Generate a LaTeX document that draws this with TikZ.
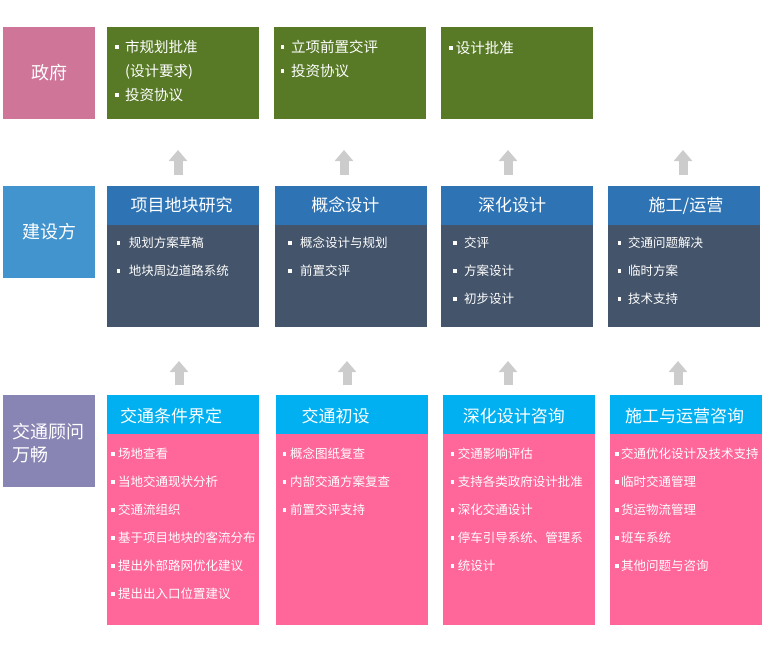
\documentclass[tikz,border=0pt]{standalone}
\usepackage{fontspec}
\setmainfont{Noto Sans CJK SC}
\usetikzlibrary{arrows.meta}
\definecolor{govpink}{HTML}{CF7598}
\definecolor{govgreen}{HTML}{587A26}
\definecolor{ownerblue}{HTML}{4294CE}
\definecolor{headblue}{HTML}{2E74B5}
\definecolor{slate}{HTML}{44546A}
\definecolor{advpurple}{HTML}{8884B4}
\definecolor{headcyan}{HTML}{00B0F0}
\definecolor{bodypink}{HTML}{FF6699}
\definecolor{arrowgrey}{HTML}{CCCCCC}
\newcommand\bul[1][7pt]{\rule[.25em]{3.5pt}{3.5pt}\hspace{#1}}

\begin{document}
\begin{tikzpicture}[x=1pt,y=-1pt,%[scale=.6]
  box/.style={inner sep=0,outer sep=0,minimum width=152pt,anchor=north west},
  side/.style={box,minimum width=92pt,minimum height=92pt,text=white,
    font=\fontsize{18}{23.5}\selectfont,text height=14.4pt,text depth=.9pt},
  head/.style={text=white,inner sep=0,font=\fontsize{17}{20}\selectfont,
    text height=13.6pt,text depth=.85pt},
  item/.style={text=white,inner sep=0,anchor=west,font=\fontsize{12.5}{15}\selectfont,
    text height=10pt,text depth=.6pt},
  gitem/.style={item,font=\fontsize{14.5}{17}\selectfont,text height=11.6pt,text depth=.7pt},
  up/.style={arrowgrey,line width=9pt,-{Triangle[length=11pt,width=18pt]}}]
\useasboundingbox (0,0) rectangle (775,666);

% row 1
\node[side,fill=govpink] (gov) at (3,27) {政府};
\foreach \x [count=\i] in {107,274,441}
  \node[box,fill=govgreen,minimum height=92pt] (g\i) at (\x,27) {};
\node[gitem] (g1-1) at (115,47) {\bul[6.5pt]市规划批准};
\node[gitem] (g1-2) at (125,71) {(设计要求)};
\node[gitem] (g1-3) at (115,95) {\bul[6.5pt]投资协议};
\node[gitem] (g2-1) at (280.7,47) {\bul[6.8pt]立项前置交评};
\node[gitem] (g2-2) at (280.7,71) {\bul[6.8pt]投资协议};
\node[gitem] (g3-1) at (449,48) {\bul[3.2pt]设计批准};

\foreach \x [count=\i] in {178,344,508,683}
 {\coordinate (ua\i) at (\x,175);
  \draw[up] (ua\i) -- ++(0,-25);
 };

% row 2
\node[side,fill=ownerblue] (own) at (3,186) {建设方};
\foreach \x [count=\i] in {107,275,441,608}
 {\node[box,fill=headblue,minimum height=39pt] (mh\i) at (\x,186) {};
  \node[box,fill=slate,minimum height=102pt] (mb\i) at (\x,225) {};
 };
\node[head] (mt1) at (181.5,205) {项目地块研究};
\node[head] (mt2) at (345.3,205) {概念设计};
\node[head] (mt3) at (512,205) {深化设计};
\node[head] (mt4) at (686,205) {施工/运营};
\foreach \txt [count=\j] in {规划方案草稿,地块周边道路系统}
  \node[item] (m1-\j) at (116.7,{243+28*(\j-1)}) {\bul[8.5pt]\txt};
\foreach \txt [count=\j] in {概念设计与规划,前置交评}
  \node[item] (m2-\j) at (288,{243+28*(\j-1)}) {\bul[8.5pt]\txt};
\foreach \txt [count=\j] in {交评,方案设计,初步设计}
  \node[item] (m3-\j) at (453,{243+28*(\j-1)}) {\bul[7.5pt]\txt};
\foreach \txt [count=\j] in {交通问题解决,临时方案,技术支持}
  \node[item] (m4-\j) at (617.7,{243+28*(\j-1)}) {\bul[6.8pt]\txt};

\foreach \x [count=\i] in {179,347,508,678}
 {\coordinate (la\i) at (\x,385);
  \draw[up] (la\i) -- ++(0,-24);
 };

% row 3
\node[side,fill=advpurple] (adv) at (3,395) {};
\node[anchor=west,inner sep=0,text=white,align=left,font=\fontsize{18}{23.5}\selectfont]
  (advt) at (12.3,443) {交通顾问\\万畅};
\foreach \x [count=\i] in {107,276,443,610}
 {\node[box,fill=headcyan,minimum height=39pt] (bh\i) at (\x,395) {};
  \node[box,fill=bodypink,minimum height=191pt] (bb\i) at (\x,434) {};
 };
\node[head] (bt1) at (171,415.7) {交通条件界定};
\node[head] (bt2) at (335.5,415.7) {交通初设};
\node[head] (bt3) at (513.8,415.7) {深化设计咨询};
\node[head] (bt4) at (684.7,415.7) {施工与运营咨询};
\foreach \txt [count=\j] in {场地查看,当地交通现状分析,交通流组织,基于项目地块的客流分布,提出外部路网优化建议,提出出入口位置建议}
  \node[item] (b1-\j) at (111,{454+28*(\j-1)}) {\bul[3.5pt]\txt};
\foreach \txt [count=\j] in {概念图纸复查,内部交通方案复查,前置交评支持}
  \node[item] (b2-\j) at (282.7,{454+28*(\j-1)}) {\bul[3.8pt]\txt};
\foreach \txt [count=\j] in {交通影响评估,支持各类政府设计批准,深化交通设计,停车引导系统、管理系,统设计}
  \node[item] (b3-\j) at (450.7,{454+28*(\j-1)}) {\bul[3.5pt]\txt};
\foreach \txt [count=\j] in {交通优化设计及技术支持,临时交通管理,货运物流管理,班车系统,其他问题与咨询}
  \node[item] (b4-\j) at (615,{454+28*(\j-1)}) {\bul[2.5pt]\txt};
\end{tikzpicture}
\end{document}
